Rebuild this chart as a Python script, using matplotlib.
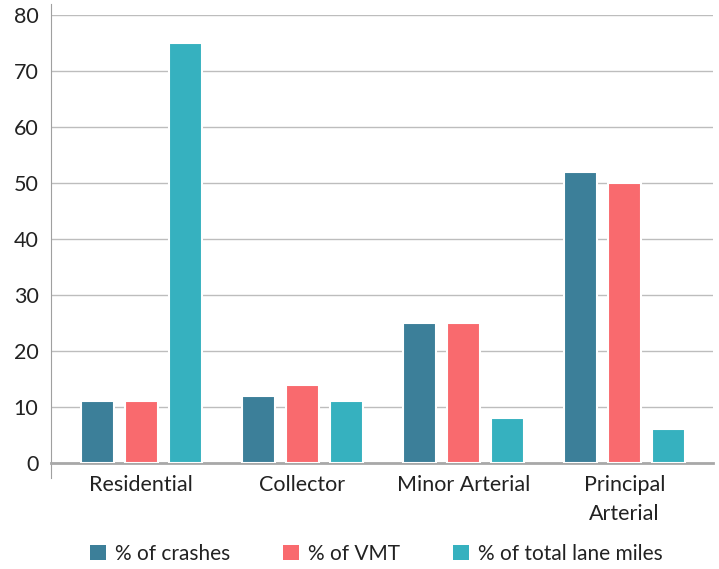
import matplotlib
matplotlib.use("Agg")
import matplotlib.pyplot as plt
import numpy as np
from matplotlib.patches import Patch

categories = ["Residential", "Collector", "Minor Arterial", "Principal\nArterial"]
crashes = [11, 12, 25, 52]
vmt = [11, 14, 25, 50]
lane_miles = [75, 11, 8, 6]
series_names = ["% of crashes", "% of VMT", "% of total lane miles"]
colors = ["#3C7F99", "#F96A6E", "#36B1BF"]
yticks = [0, 10, 20, 30, 40, 50, 60, 70, 80]

plt.rcParams['font.family'] = ['Lato', 'DejaVu Sans']

fig = plt.figure(figsize=(7.19, 5.69), dpi=100)
W, H = 719, 569
ax = fig.add_axes([51 / W, 1 - 463 / H, (713 - 51) / W, (463 - 15) / H])

x = np.arange(len(categories))
step = 0.273
width = 0.205
for i, (vals, c) in enumerate(zip([crashes, vmt, lane_miles], colors)):
    ax.bar(x + (i - 1) * step, vals, width=width, color=c, edgecolor="white",
           linewidth=1.5, zorder=3)

ax.set_xlim(-0.56, 3.55)
ax.set_ylim(0, 80)
ax.set_yticks(yticks)
ax.yaxis.grid(True, color="#BDBDBD", linewidth=1.0, zorder=0)
ax.set_axisbelow(True)
for s in ["top", "right"]:
    ax.spines[s].set_visible(False)
ax.spines["left"].set_color("#A0A0A0")
ax.spines["left"].set_bounds(-2.6, 82)
ax.spines["bottom"].set_color("#A8A8A8")
ax.spines["bottom"].set_linewidth(2.0)
ax.tick_params(axis="both", length=0, labelsize=15.5, colors="#222222")
ax.tick_params(axis="y", pad=9)
ax.tick_params(axis="x", pad=8.5)
ax.set_xticks(x)
ax.set_xticklabels(categories, linespacing=1.55)
ax.spines["left"].set_clip_on(False)

handles = [Patch(facecolor=c, edgecolor="none") for c in colors]
fig.legend(handles, series_names, loc="center", bbox_to_anchor=(0.5237, 1 - 554 / H),
           ncol=3, frameon=False, fontsize=15, handlelength=0.75, handleheight=0.75,
           columnspacing=2.55, handletextpad=0.45, labelcolor="#222222",
           borderpad=0.2)

fig.savefig("out.png", dpi=100)
